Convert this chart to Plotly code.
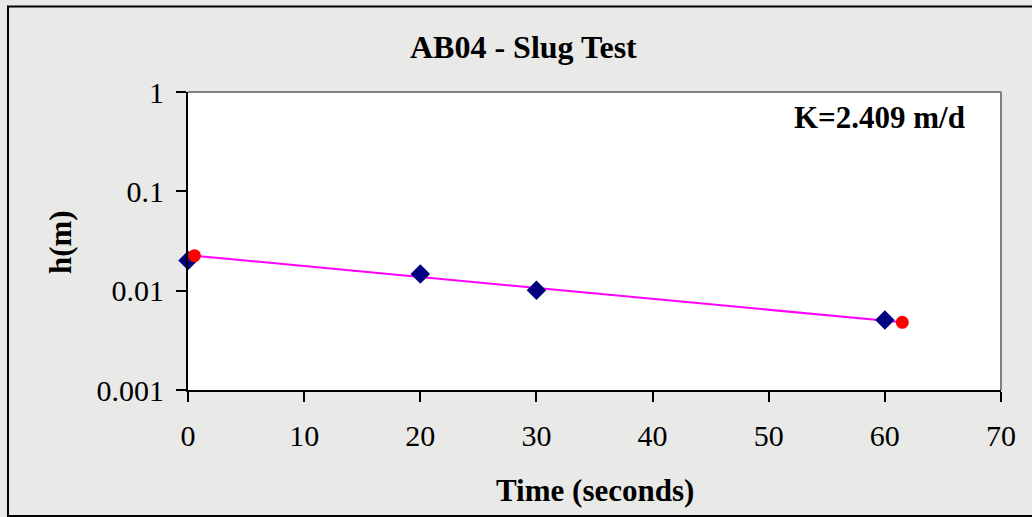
import plotly.graph_objects as go

# Data
obs_t = [0, 20, 30, 60]
obs_h = [0.0201, 0.0147, 0.0101, 0.00507]
fit_t = [0.55, 61.5]
fit_h = [0.0225, 0.0048]
x_ticks = [0, 10, 20, 30, 40, 50, 60, 70]
y_ticks = [0.001, 0.01, 0.1, 1]
y_tick_text = ["0.001", "0.01", "0.1", "1"]
title_text = "AB04 - Slug Test"
k_text = "K=2.409 m/d"

FONT = "Liberation Serif, Times New Roman, serif"
BG = "#e9e9e7"

fig = go.Figure()
fig.add_trace(go.Scatter(x=fit_t, y=fit_h, mode="lines",
                         line=dict(color="#ff00ff", width=2), showlegend=False))
fig.add_trace(go.Scatter(x=obs_t, y=obs_h, mode="markers",
                         marker=dict(symbol="diamond", size=15, color="#000080"),
                         showlegend=False, cliponaxis=False))
fig.add_trace(go.Scatter(x=fit_t, y=fit_h, mode="markers",
                         marker=dict(symbol="circle", size=13, color="#ff0000"),
                         showlegend=False, cliponaxis=False))

fig.update_layout(
    width=1032, height=517,
    margin=dict(l=188, r=31, t=92, b=127),
    paper_bgcolor=BG, plot_bgcolor="white",
    font=dict(family=FONT, size=30, color="black"),
    xaxis=dict(range=[0, 70], tickvals=x_ticks, ticks="outside", ticklen=10,
               tickwidth=2, tickcolor="black", showline=True, linecolor="black",
               linewidth=2, showgrid=False, zeroline=False,
               tickfont=dict(family=FONT, size=30), ticklabelstandoff=8),
    yaxis=dict(type="log", range=[-3, 0], tickvals=y_ticks, ticktext=y_tick_text,
               ticks="outside", ticklen=10, tickwidth=2, tickcolor="black",
               showline=True, linecolor="black", linewidth=2, showgrid=False,
               zeroline=False, tickfont=dict(family=FONT, size=30),
               ticklabelstandoff=6),
    shapes=[
        dict(type="line", xref="paper", yref="paper", x0=0, x1=1, y0=1, y1=1,
             line=dict(color="#808080", width=2)),
        dict(type="line", xref="paper", yref="paper", x0=1, x1=1, y0=0, y1=1,
             line=dict(color="#808080", width=2)),
        dict(type="rect", xref="paper", yref="paper",
             x0=-0.2214, x1=1.045, y0=-0.423, y1=1.287,
             line=dict(color="black", width=2), layer="below"),
    ],
    annotations=[
        dict(text="<b>%s</b>" % title_text, xref="paper", yref="paper",
             x=0.413, y=1.151, showarrow=False, xanchor="center", yanchor="middle",
             font=dict(family=FONT, size=32)),
        dict(text="<b>%s</b>" % k_text, xref="paper", yref="paper",
             x=0.851, y=0.916, showarrow=False, xanchor="center", yanchor="middle",
             font=dict(family=FONT, size=31)),
        dict(text="<b>h(m)</b>", xref="paper", yref="paper",
             x=-0.156, y=0.497, showarrow=False, textangle=-90,
             xanchor="center", yanchor="middle", font=dict(family=FONT, size=31)),
        dict(text="<b>Time (seconds)</b>", xref="paper", yref="paper",
             x=0.5006, y=-0.336, showarrow=False, xanchor="center", yanchor="middle",
             font=dict(family=FONT, size=31)),
    ],
)

fig.write_html("out.html", config={"displayModeBar": False},
               post_script="document.body.style.margin='0px';document.body.style.overflow='hidden';")
